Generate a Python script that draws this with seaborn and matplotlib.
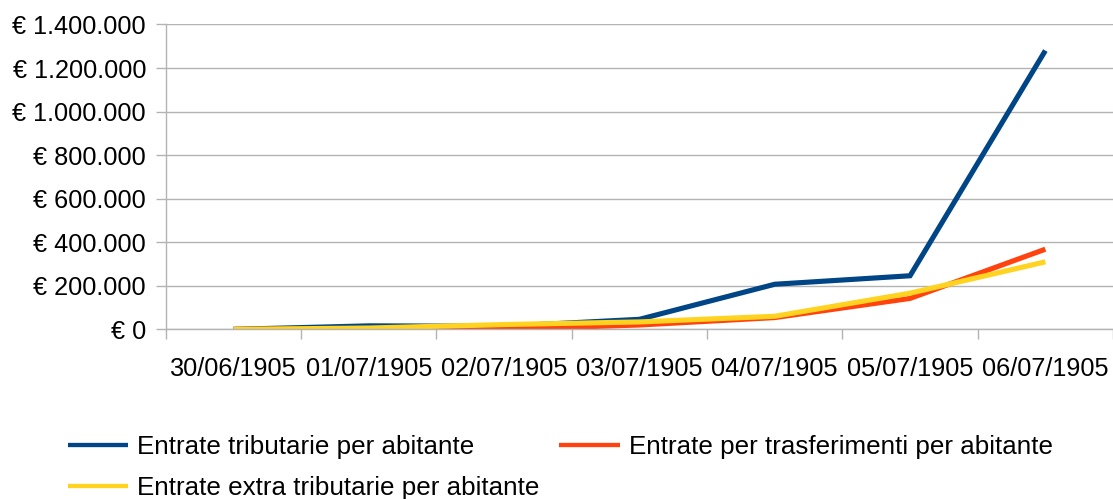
import matplotlib
matplotlib.use("Agg")
import matplotlib.pyplot as plt
import seaborn as sns
import pandas as pd
from matplotlib.ticker import FuncFormatter, FixedLocator
from matplotlib.lines import Line2D

dates = ["30/06/1905", "01/07/1905", "02/07/1905", "03/07/1905",
         "04/07/1905", "05/07/1905", "06/07/1905"]
tributarie = [0, 16000, 14000, 46000, 207000, 246000, 1280000]
trasferimenti = [0, 2000, 0, 20000, 54000, 142000, 368000]
extra = [0, 6000, 22000, 34000, 60000, 166000, 310000]
series_names = ["Entrate tributarie per abitante",
                "Entrate per trasferimenti per abitante",
                "Entrate extra tributarie per abitante"]
colors = ["#004586", "#ff420e", "#ffd320"]

rows = []
for name, vals in zip(series_names, [tributarie, trasferimenti, extra]):
    for i, (d, v) in enumerate(zip(dates, vals)):
        rows.append({"pos": i, "date": d, "value": v, "serie": name})
df = pd.DataFrame(rows)

sns.set_theme(style="white")
plt.rcParams['font.family'] = ['Liberation Sans', 'DejaVu Sans']
plt.rcParams['text.color'] = 'black'
plt.rcParams['xtick.color'] = 'black'
plt.rcParams['ytick.color'] = 'black'

fig = plt.figure(figsize=(11.13, 4.99), dpi=100)
ax = fig.add_axes([0.149, 0.340, 0.851, 0.611])

sns.lineplot(data=df, x="pos", y="value", hue="serie", hue_order=series_names,
             palette=colors, linewidth=3.7, ax=ax, legend=False, sort=False,
             estimator=None)
for ln in ax.lines:
    ln.set_solid_capstyle("butt")
    ln.set_solid_joinstyle("miter")

ax.set_xlim(-0.5, 6.5)
ax.set_ylim(0, 1400000)
ax.set_yticks(range(0, 1400001, 200000))

def eur(v, p):
    return "€ " + f"{int(v):,}".replace(",", ".")
ax.yaxis.set_major_formatter(FuncFormatter(eur))

ax.set_xticks(range(len(dates)))
ax.set_xticklabels(dates)
ax.xaxis.set_minor_locator(FixedLocator([i - 0.5 for i in range(len(dates) + 1)]))
ax.tick_params(axis="x", which="major", length=0, pad=20, labelsize=18.2, labelcolor="black")
ax.tick_params(axis="x", which="minor", length=7.2, width=1, color="#b3b3b3", bottom=True)
ax.tick_params(axis="y", which="major", length=7.2, width=1, color="#b3b3b3",
               labelsize=18.2, labelcolor="black", left=True, pad=7)

ax.grid(axis="y", color="#b3b3b3", linewidth=1)
ax.set_axisbelow(True)
for s in ["top", "right"]:
    ax.spines[s].set_visible(False)
for s in ["left", "bottom"]:
    ax.spines[s].set_color("#b3b3b3")
    ax.spines[s].set_linewidth(1)
ax.set_xlabel("")
ax.set_ylabel("")

# legend fills column-wise; order so rows read: tributarie, trasferimenti / extra
order = [0, 2, 1]
handles = [Line2D([], [], color=colors[i], linewidth=3.1, solid_capstyle="butt") for i in order]
labels = [series_names[i] for i in order]
leg = fig.legend(handles, labels, loc="upper left", bbox_to_anchor=(0.061, 0.128),
                 ncol=2, frameon=False, fontsize=18.7, handlelength=2.33, handletextpad=0.35,
                 columnspacing=0.74, labelspacing=0.66, borderaxespad=0, borderpad=0)
for t in leg.get_texts():
    t.set_color("black")

fig.savefig("out.png", dpi=100)
